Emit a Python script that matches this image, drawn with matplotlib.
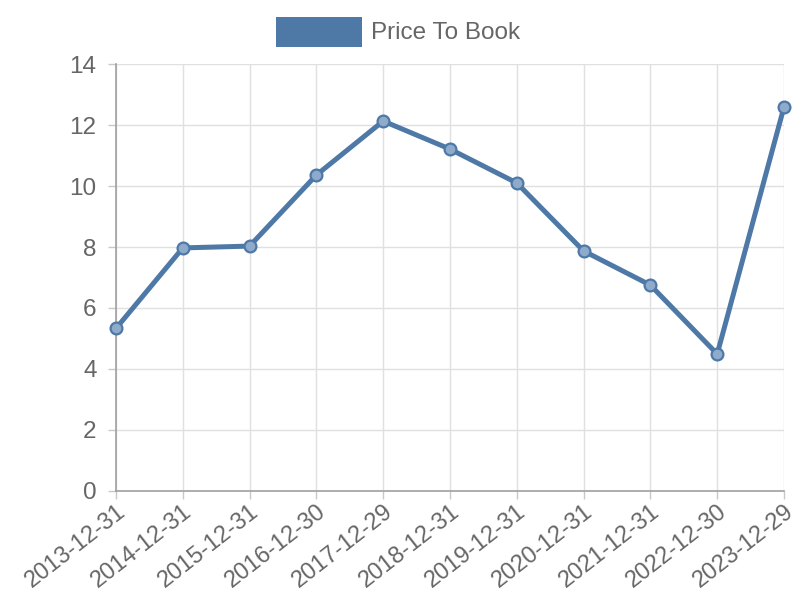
import matplotlib
matplotlib.use("Agg")
import matplotlib.pyplot as plt
from matplotlib.patches import Rectangle

# values
dates = ["2013-12-31", "2014-12-31", "2015-12-31", "2016-12-30", "2017-12-29",
         "2018-12-31", "2019-12-31", "2020-12-31", "2021-12-31", "2022-12-30",
         "2023-12-29"]
price_to_book = [5.33, 7.97, 8.03, 10.36, 12.13, 11.21, 10.10, 7.87, 6.75, 4.49, 12.59]
y_ticks = [0, 2, 4, 6, 8, 10, 12, 14]

line_col = "#4e79a7"
text_col = "#666666"

plt.rcParams["font.family"] = ["Liberation Sans", "DejaVu Sans"]

fig = plt.figure(figsize=(8, 6), dpi=100)
ax = fig.add_axes([0.145, 0.1817, 0.835, 0.7116])

x = list(range(len(dates)))
ax.plot(x, price_to_book, color=line_col, linewidth=3.6, zorder=3,
        marker="o", markersize=8.5, markerfacecolor="#8fabcb",
        markeredgecolor=line_col, markeredgewidth=1.6, clip_on=False)

ax.set_xlim(0, len(dates) - 1)
ax.set_ylim(0, 14)
ax.set_yticks(y_ticks)
ax.set_xticks(x)
ax.set_xticklabels(dates, rotation=38, ha="right", rotation_mode="anchor")

ax.grid(True, color="#e0e0e0", linewidth=1)
ax.set_axisbelow(True)
for s in ["top", "right"]:
    ax.spines[s].set_visible(False)
for s in ["left", "bottom"]:
    ax.spines[s].set_color("#a0a0a0")
    ax.spines[s].set_linewidth(1.2)
ax.tick_params(axis="both", colors="#c8c8c8", length=6, width=1,
               labelcolor=text_col, labelsize=17.5)
ax.tick_params(axis="y", pad=8)
ax.tick_params(axis="x", pad=1, labelsize=17)

# legend drawn at the top centre
fig.add_artist(Rectangle((276 / 800, 1 - 47 / 600), 86 / 800, 30 / 600,
                         transform=fig.transFigure, facecolor=line_col,
                         edgecolor="none"))
fig.text(371 / 800, 1 - 33 / 600, "Price To Book", color=text_col,
         fontsize=17.5, va="center", ha="left")

fig.savefig("out.png", dpi=100)
